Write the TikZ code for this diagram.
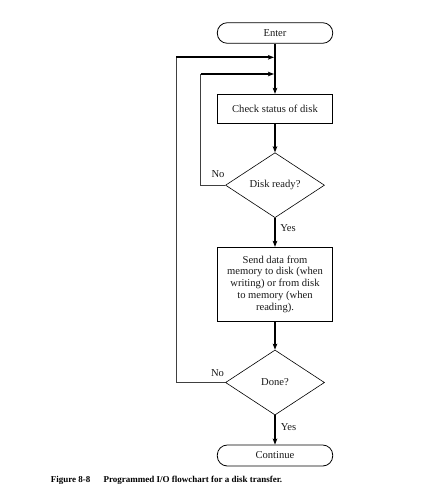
\documentclass[tikz,border=0pt]{standalone}
\usepackage{fontspec}
\setmainfont{Liberation Serif}
\usetikzlibrary{shapes.geometric,arrows.meta}
\begin{document}
\begin{tikzpicture}[x=1pt,y=-1pt,
  txt/.style={font=\fontsize{10.6}{11.8}\selectfont, text=black!90},
  terminal/.style={txt, draw, line width=0.8pt, rounded corners=10pt, minimum width=115.4pt, minimum height=20.6pt, inner sep=0pt},
  procbox/.style={txt, draw, line width=0.9pt, minimum width=115.4pt, inner sep=0pt, align=center},
  decision/.style={txt, draw, diamond, line width=0.6pt, aspect=1.52, minimum width=99pt, minimum height=65pt, inner sep=0pt},
  lbl/.style={txt, inner sep=0pt},
  flow/.style={line width=2pt, -{Stealth[length=6pt,width=4.5pt,inset=1.2pt]}},
  loopline/.style={line width=0.9pt, black!75},
  loophead/.style={line width=2pt, -{Stealth[length=6pt,width=4.5pt,inset=1.2pt]}},
  captext/.style={font=\fontsize{9}{10}\selectfont\bfseries, inner sep=0pt, anchor=west}
]
\useasboundingbox (0,0) rectangle (436,498);

\node[terminal] (enter) at (275,33) {Enter};
\node[procbox, minimum height=29pt] (check) at (275,108.8) {Check status of disk};
\node[decision] (ready) at (275,185.2) {Disk ready?};
\node[procbox, minimum height=73.7pt] (send) at (275,284.2) {Send data from\\memory to disk (when\\writing) or from disk\\to memory (when\\reading).};
\node[decision] (done) at (275,382.5) {Done?};
\node[terminal, minimum height=21pt] (cont) at (275,455.5) {Continue};

\coordinate (jo) at (275,57.3);
\coordinate (ji) at (275,74);
\coordinate (co) at (176,57.3);
\coordinate (ci) at (200.7,74);

% main flow
\draw[flow] (enter.south) -- (check.north);
\draw[flow] (check.south) -- (ready.north);
\draw[flow] (ready.south) -- (send.north);
\draw[flow] (send.south) -- (done.north);
\draw[flow] (done.south) -- (cont.north);

% loops
\draw[loopline] (ready.west) -| (ci);
\draw[loophead] (ci) -- ([xshift=-1pt]ji);
\draw[loopline] (done.west) -| (co);
\draw[loophead] (co) -- ([xshift=-1pt]jo);

% labels
\node[lbl] (no1) at (218,174.5) {No};
\node[lbl] (yes1) at (288,228.5) {Yes};
\node[lbl] (no2) at (217.5,372.7) {No};
\node[lbl] (yes2) at (288.5,426.7) {Yes};

% caption
\node[captext] (fig) at (50.7,480.7) {Figure 8-8};
\node[captext] (captxt) at (103.3,480.7) {Programmed I/O flowchart for a disk transfer.};
\end{tikzpicture}
\end{document}
